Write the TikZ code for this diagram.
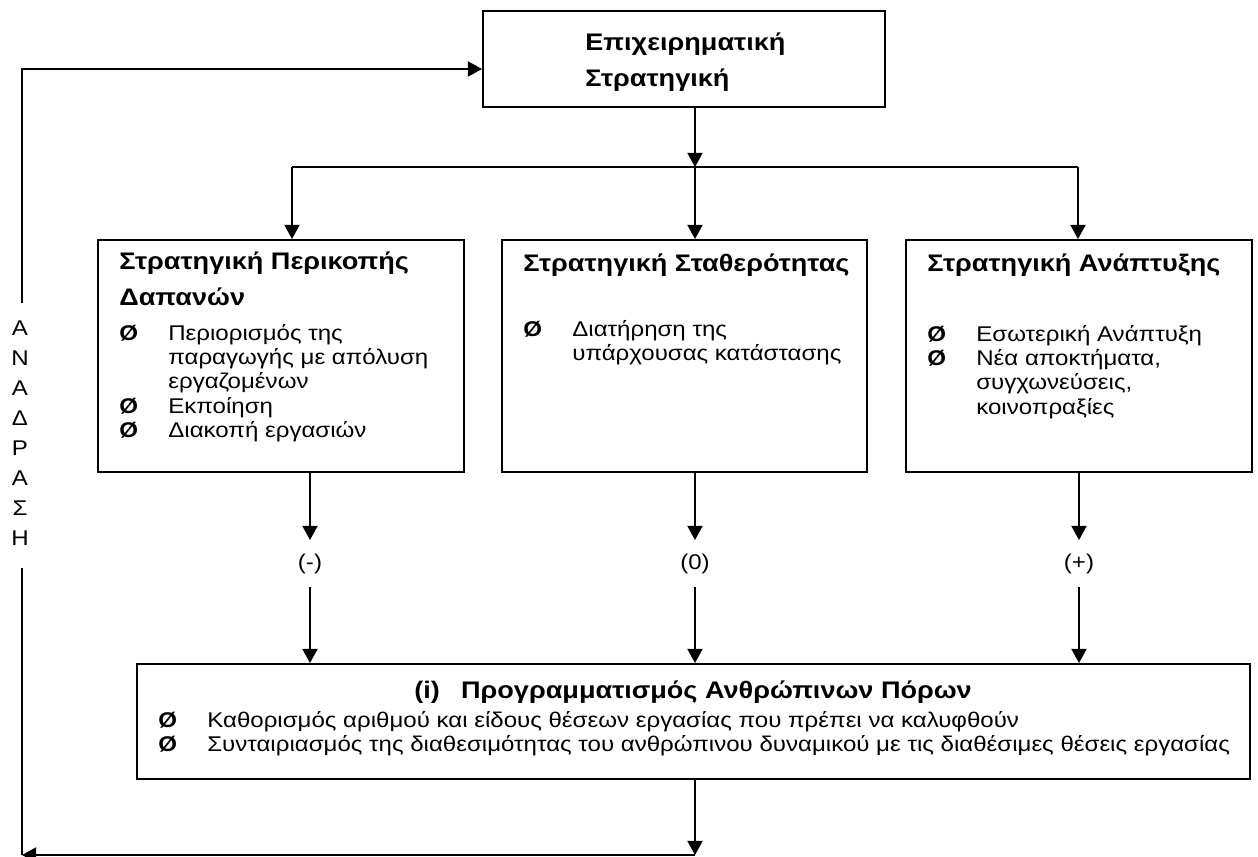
\documentclass[tikz,border=0pt]{standalone}
\usepackage{fontspec}
\setmainfont{Liberation Sans}[FakeStretch=1.13]
\usetikzlibrary{arrows.meta,fit}

% one drawing unit = one pixel of the layout grid
\newcommand\bodyfont{\fontsize{12}{13.8}\selectfont}
\newcommand\headfont{\fontsize{13.5}{20.3}\selectfont\bfseries}
\newcommand\bl[1]{\makebox[27.6pt][l]{\bfseries Ø}#1}
\newcommand\cont{\hspace*{27.6pt}}

\tikzset{
  box/.style={draw, line width=1.1pt, inner sep=0pt},
  conn/.style={line width=1.1pt},
  arr/.style={conn, -{Triangle[length=8pt,width=8.5pt]}},
  head/.style={anchor=base west, inner sep=0pt, font=\headfont},
  body/.style={anchor=base west, inner sep=0pt},
  sign/.style={inner sep=0pt, font=\bodyfont},
  letter/.style={inner sep=0pt, font=\bodyfont},
}

\begin{document}
\begin{tikzpicture}[x=0.5634pt,y=-0.5634pt]
\useasboundingbox (0,0) rectangle (1258,856);

% boxes
\node[box, fit={(483,11) (885,107)}] (top) {};
\node[box, fit={(98,240) (464,472)}] (left) {};
\node[box, fit={(502,240) (867,472)}] (mid) {};
\node[box, fit={(906,240) (1252,472)}] (right) {};
\node[box, fit={(137,664) (1250,779)}] (bot) {};

% texts of the top box
\node[head] (t1) at (585,50) {Επιχειρηματική};
\node[head] (t2) at (585,86) {Στρατηγική};

% cost cutting
\node[head] (l1) at (119,269) {Στρατηγική Περικοπής};
\node[head] (l2) at (119,305) {Δαπανών};
\node[body] (lb) at (119,340) {\parbox[t]{330pt}{\bodyfont\raggedright
  \bl{Περιορισμός της}\\
  \cont παραγωγής με απόλυση\\
  \cont εργαζομένων\\
  \bl{Εκποίηση}\\
  \bl{Διακοπή εργασιών}}};

% stability
\node[head] (m1) at (523,271) {Στρατηγική Σταθερότητας};
\node[body] (mb) at (523,336) {\parbox[t]{330pt}{\bodyfont\raggedright
  \bl{Διατήρηση της}\\
  \cont υπάρχουσας κατάστασης}};

% growth
\node[head] (r1) at (927,271) {Στρατηγική Ανάπτυξης};
\node[body] (rb) at (927,341) {\parbox[t]{330pt}{\bodyfont\raggedright
  \bl{Εσωτερική Ανάπτυξη}\\
  \bl{Νέα αποκτήματα,}\\
  \cont συγχωνεύσεις,\\
  \cont κοινοπραξίες}};

% human resources planning
\node[anchor=base, inner sep=0pt, font=\headfont] (b1) at (693,698)
  {(i)\hspace{12pt}Προγραμματισμός Ανθρώπινων Πόρων};
\node[body] (bb) at (158,727) {\parbox[t]{700pt}{\bodyfont\raggedright
  \bl{Καθορισμός αριθμού και είδους θέσεων εργασίας που πρέπει να καλυφθούν}\\
  \bl{Συνταιριασμός της διαθεσιμότητας του ανθρώπινου δυναμικού με τις διαθέσιμες θέσεις εργασίας}}};

% signs between the strategies and the planning
\node[sign] (sl) at (310,564) {(-)};
\node[sign] (sm) at (695,564) {(0)};
\node[sign] (sr) at (1079,564) {(+)};

% feedback label
\foreach \ch [count=\i] in {Α,Ν,Α,Δ,Ρ,Α,Σ,Η}
  \node[letter] (fb\i) at (20,{328+(\i-1)*30}) {\ch};

% junction points
\coordinate (jc) at (695,167);
\coordinate (jl) at (292,167);
\coordinate (jr) at (1078,167);
\coordinate (el) at (310,540);
\coordinate (em) at (695,540);
\coordinate (er) at (1079,540);
\coordinate (sl2) at (310,587);
\coordinate (sm2) at (695,587);
\coordinate (sr2) at (1079,587);
\coordinate (fbr) at (695,855);
\coordinate (fbl) at (22,855);
\coordinate (fbm) at (22,568);
\coordinate (fbu) at (22,303);
\coordinate (fbt) at (22,69);

% strategy to the three options
\draw[arr] (top.south -| jc) -- (jc);
\draw[conn] (jl) -- (jr);
\draw[arr] (jl) -- (left.north -| jl);
\draw[arr] (jc) -- (mid.north -| jc);
\draw[arr] (jr) -- (right.north -| jr);

% options to signs to planning
\draw[arr] (left.south -| el) -- (el);
\draw[arr] (mid.south -| em) -- (em);
\draw[arr] (right.south -| er) -- (er);
\draw[arr] (sl2) -- (bot.north -| sl2);
\draw[arr] (sm2) -- (bot.north -| sm2);
\draw[arr] (sr2) -- (bot.north -| sr2);

% feedback loop
\draw[arr] (bot.south -| fbr) -- (fbr);
\draw[arr] (fbr) -- (fbl);
\draw[conn] (fbl) -- (fbm);
\draw[arr] (fbu) -- (fbt) -- (fbt -| top.west);
\end{tikzpicture}
\end{document}
